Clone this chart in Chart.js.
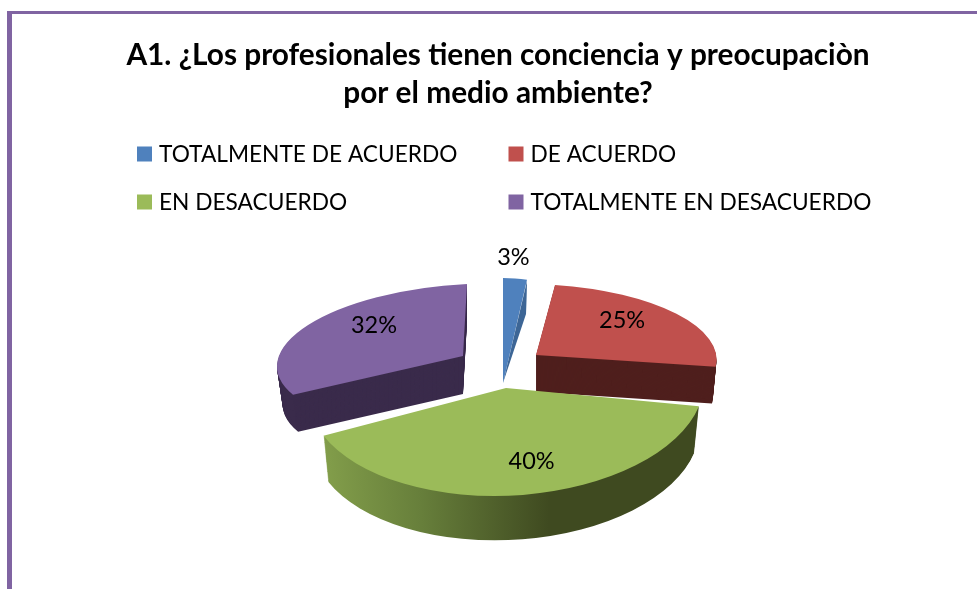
<!DOCTYPE html>
<html><head><meta charset="utf-8">
<style>
html,body{margin:0;padding:0;background:#fff;width:977px;height:589px;overflow:hidden}
#frame{position:absolute;left:7px;top:11px;right:-10px;bottom:-10px;border-top:3px solid #8064a2;border-left:5px solid #8064a2;box-sizing:border-box}
canvas{position:absolute;left:0;top:0}
</style>
<script src="https://cdn.jsdelivr.net/npm/chart.js@4"></script>
</head><body>
<canvas id="c" width="977" height="589"></canvas>
<div id="frame"></div>
<script>
// ---- data ----
const titleLines = ["A1. ¿Los profesionales tienen conciencia y preocupaciòn", "por el medio ambiente?"];
const categories = ["TOTALMENTE DE ACUERDO", "DE ACUERDO", "EN DESACUERDO", "TOTALMENTE EN DESACUERDO"];
const percentages = [3, 25, 40, 32];
const topColors = ["#4f81bd", "#c0504d", "#9bbb59", "#8064a2"];
const wallColors = ["#3d6696", "#4f1f1d", "#3f4a20", "#3a2b4b"];

// ---- presentation: how each flat wedge is laid on the tilted plane ----
// apex = where the wedge tip lands; m = [a,b,c,d] linear map of the unit circle
const poses = [
  {apex:[503,383], m:[128,0,0,105], depth:0, taper:0, side:[-3,167,-24,102], labelK:1.2, shift:[-4,0]},
  {apex:[536,355], m:[180,-1.5,15,71], depth:37, taper:.02, labelK:.62, shift:[-1,-9]},
  {apex:[506,388], m:[198,-2,-8,108], depth:47, taper:.025, labelK:.69, shift:[14,0], gradient:[[0,"#87a34d"],[.3,"#677f3b"],[.63,"#3f4a20"],[1,"#3f4a20"]]},
  {apex:[463,356], m:[186,-9,-4,72], depth:38, taper:.03, labelK:.62, shift:[7,-11]}
];
const drawOrder = [0,1,3,2];

function withPose(ctx, el, pose, m, dy, scale, fn){
  const R = el.outerRadius;
  ctx.save();
  ctx.translate(pose.apex[0], pose.apex[1] + dy);
  ctx.transform(m[0]*scale/R, m[1]*scale/R, m[2]*scale/R, m[3]*scale/R, 0, 0);
  ctx.translate(-el.x, -el.y);
  fn();
  ctx.restore();
}
function drawWith(ctx, el, fill){
  const base = el.options;
  el.options = Object.assign(Object.create(base), {backgroundColor: fill});
  el.draw(ctx);
  el.options = base;
}

const tiltedPie = {
  id:'tiltedPie',
  beforeDatasetDraw(chart, args){
    const ctx = chart.ctx;
    const els = chart.getDatasetMeta(args.index).data;
    drawOrder.forEach(i=>{
      const el = els[i], p = poses[i];
      let wall = wallColors[i];
      if(p.gradient){
        const g = ctx.createLinearGradient(el.x-el.outerRadius,0,el.x+el.outerRadius,0);
        p.gradient.forEach(s=>g.addColorStop(s[0],s[1]));
        wall = g;
      }
      for(let d=p.depth; d>=1; d--){
        withPose(ctx, el, p, p.m, d, 1-p.taper*d/p.depth, ()=>drawWith(ctx, el, wall));
      }
      withPose(ctx, el, p, p.m, 0, 1, ()=>drawWith(ctx, el, topColors[i]));
      if(p.side) withPose(ctx, el, p, p.side, 0, 1, ()=>drawWith(ctx, el, wall));
    });
    return false;
  },
  afterDraw(chart){
    const ctx = chart.ctx;
    const els = chart.getDatasetMeta(0).data;
    // value labels
    ctx.save();
    ctx.fillStyle = '#000';
    ctx.font = '23.5px Lato';
    ctx.textAlign = 'center';
    ctx.textBaseline = 'middle';
    els.forEach((el,i)=>{
      const p = poses[i], mid = (el.startAngle+el.endAngle)/2, k = p.labelK;
      const ux = Math.cos(mid)*k, uy = Math.sin(mid)*k;
      const x = p.apex[0] + p.m[0]*ux + p.m[2]*uy + p.shift[0];
      const y = p.apex[1] + p.m[1]*ux + p.m[3]*uy + p.shift[1];
      ctx.fillText(percentages[i]+'%', x, y);
    });
    // two-column legend
    ctx.font = '22.7px Lato';
    ctx.textAlign = 'left';
    categories.forEach((t,i)=>{
      const col = i%2, row = Math.floor(i/2);
      const x = 137 + col*371.5, y = 154 + row*48;
      ctx.fillStyle = topColors[i];
      ctx.fillRect(x, y-7.5, 15, 15);
      ctx.fillStyle = '#000';
      ctx.fillText(t, x+22, y+1);
    });
    ctx.restore();
  }
};

new Chart(document.getElementById('c'), {
  type:'pie',
  data:{labels:categories, datasets:[{data:percentages, backgroundColor:topColors, borderWidth:0}]},
  options:{
    responsive:false,
    animation:false,
    layout:{padding:{left:19}},
    plugins:{
      legend:{display:false},
      tooltip:{enabled:false},
      title:{display:true, text:titleLines, color:'#000', font:{family:'Lato', size:29.8, weight:'bold', lineHeight:1.28}, padding:{top:36,bottom:10}}
    }
  },
  plugins:[tiltedPie]
});
</script>
</body></html>
